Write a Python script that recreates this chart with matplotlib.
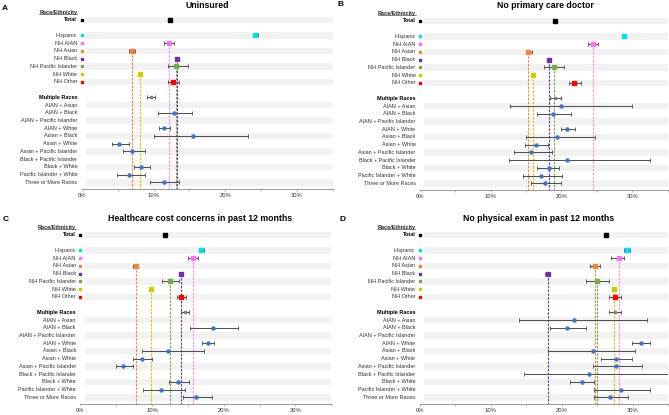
import matplotlib.pyplot as plt
from matplotlib.lines import Line2D
import numpy as np

plt.rcParams['font.family'] = ['Liberation Sans', 'DejaVu Sans']

nan = np.nan

groups = ["Hispanic", "NH AIAN", "NH Asian", "NH Black",
          "NH Pacific Islander", "NH White", "NH Other"]
combos = ["AIAN + Asian", "AIAN + Black", "AIAN + Pacific Islander",
          "AIAN + White", "Asian + Black", "Asian + White",
          "Asian + Pacific Islander", "Black + Pacific Islander",
          "Black + White", "Pacific Islander + White", "Three or More Races"]
group_colors = ["#00E0EC", "#FF6EFF", "#F4843C", "#7030A0",
                "#70AD47", "#CCCC00", "#FF0000"]

# A - Uninsured
unins_total = 12.3
unins_grp = [24.2, 12.2, 7.0, 13.3, 13.2, 8.1, 12.7]
unins_grp_lo = [23.9, 11.4, 6.6, 13.1, 12.0, nan, 12.0]
unins_grp_hi = [24.6, 12.9, 7.4, 13.5, 14.8, nan, 13.6]
unins_multi = [9.6, 9.1, 10.2]
unins_cmb = [nan, 12.8, nan, 11.5, 15.5, 5.2, 7.0, nan, 8.3, 6.6, 11.4]
unins_cmb_lo = [nan, 10.6, nan, 10.8, 10.1, 4.2, 5.7, nan, 7.3, 4.9, 9.5]
unins_cmb_hi = [nan, 15.4, nan, 12.3, 23.2, 6.6, 8.8, nan, 9.5, 8.8, 13.6]

# B - No primary care doctor
nopcp_total = 19.1
nopcp_grp = [28.9, 24.4, 15.3, 18.2, 19.0, 16.0, 21.8]
nopcp_grp_lo = [28.5, 23.7, 15.0, 17.9, 17.6, nan, 21.0]
nopcp_grp_hi = [29.2, 25.2, 15.9, 18.5, 20.3, nan, 22.7]
nopcp_multi = [19.1, 18.4, 19.9]
nopcp_cmb = [20.0, 18.8, nan, 20.8, 19.4, 16.4, 15.7, 20.8, 18.2, 17.1, 17.7]
nopcp_cmb_lo = [12.7, 16.6, nan, 19.9, 15.0, 14.9, 13.3, 12.6, 16.6, 14.5, 15.7]
nopcp_cmb_hi = [30.0, 21.3, nan, 21.9, 24.7, 18.1, 18.6, 32.5, 19.7, 20.1, 20.0]

# C - Healthcare cost concerns
cost_total = 11.8
cost_grp = [16.8, 15.7, 7.7, 14.0, 12.5, 9.8, 14.0]
cost_grp_lo = [16.6, 15.0, 7.3, 13.8, 11.4, nan, 13.5]
cost_grp_hi = [17.2, 16.4, 8.1, 14.3, 13.7, nan, 14.7]
cost_multi = [14.6, 14.0, 15.2]
cost_cmb = [nan, 18.5, nan, 17.8, 12.2, 8.6, 6.0, nan, 13.6, 11.2, 16.2]
cost_cmb_lo = [nan, 15.3, nan, 17.0, 8.6, 7.4, 5.0, nan, 12.3, 8.7, 14.3]
cost_cmb_hi = [nan, 22.0, nan, 18.7, 17.2, 10.0, 7.3, nan, 15.1, 14.6, 18.3]

# D - No physical exam
noexam_total = 26.3
noexam_grp = [29.2, 28.0, 24.7, 18.0, 25.0, 27.3, 27.5]
noexam_grp_lo = [28.8, 27.0, 24.0, 17.7, 23.4, nan, 26.7]
noexam_grp_hi = [29.6, 28.8, 25.4, 18.3, 26.6, nan, 28.3]
noexam_multi = [27.5, 26.7, 28.4]
noexam_cmb = [21.7, 20.7, nan, 31.1, 24.4, 27.7, 27.7, 23.8, 22.8, 28.3, 26.8]
noexam_cmb_lo = [14.0, 18.3, nan, 29.9, 18.1, 25.6, 24.4, 14.7, 21.2, 24.6, 24.6]
noexam_cmb_hi = [32.0, 23.4, nan, 32.4, 30.3, 29.9, 31.3, 36.0, 24.6, 32.4, 29.3]

ROW_TOTAL = 1
GROUP_ROWS = list(range(3, 10))
ROW_MULTI = 11
COMBO_ROWS = list(range(12, 23))
BAND_ROWS = [1, 3, 5, 7, 9, 12, 14, 16, 18, 20, 22]
YBOT = 22.85
YTOP = -0.6
ERR = "#4a4a4a"


def errbar(ax, x, lo, hi, y):
    if np.isnan(lo):
        return
    ax.errorbar([x], [y], xerr=[[x - lo], [hi - x]], fmt='none',
                ecolor=ERR, elinewidth=0.7, capsize=1.3, capthick=0.6,
                zorder=3)


def draw_panel(fig, ax, letter, title, lpos, tpos, total, grp, grp_lo, grp_hi,
               multi, cmb, cmb_lo, cmb_hi):
    ax.set_xlim(0, 35)
    ax.set_ylim(YBOT, YTOP)
    for r in BAND_ROWS:
        ax.axhspan(r - 0.42, r + 0.42, xmin=0.017, xmax=1,
                   color="#F2F2F2", lw=0, zorder=0)

    # reference lines for the single race groups
    for i in [1, 2, 3, 4, 5]:
        ax.plot([grp[i], grp[i]], [GROUP_ROWS[i], YBOT], ls=(0, (2.2, 1.2)),
                color=group_colors[i], lw=0.8, zorder=1,
                alpha=0.8 if i == 1 else 1)

    ax.plot(total, ROW_TOTAL, 's', color='black', ms=2.3, zorder=4)
    for i, r in enumerate(GROUP_ROWS):
        errbar(ax, grp[i], grp_lo[i], grp_hi[i], r)
        ax.plot(grp[i], r, 's', color=group_colors[i], ms=2.6, zorder=4)
    errbar(ax, multi[0], multi[1], multi[2], ROW_MULTI)
    ax.plot(multi[0], ROW_MULTI, 's', color='#7f7f7f', ms=2.0, zorder=4)
    for i, r in enumerate(COMBO_ROWS):
        if np.isnan(cmb[i]):
            continue
        errbar(ax, cmb[i], cmb_lo[i], cmb_hi[i], r)
        ax.plot(cmb[i], r, 'o', color='#4472C4', ms=2.2, zorder=4)

    # row labels and colour keys
    tr = ax.get_yaxis_transform()
    lx = -0.018
    hdr = ax.text(lx, 0, "Race/Ethnicity", transform=tr, ha='right',
                  va='center', fontsize=4, fontweight='bold', color='#222222')
    ax.text(lx, ROW_TOTAL, "Total", transform=tr, ha='right', va='center',
            fontsize=4, fontweight='bold')
    ax.plot([0.0], [ROW_TOTAL], 's', color='black', ms=1.8, clip_on=False,
            transform=tr, zorder=5)
    for i, r in enumerate(GROUP_ROWS):
        ax.text(lx, r, groups[i], transform=tr, ha='right', va='center',
                fontsize=4, color='#333333')
        ax.plot([0.0], [r], 's', color=group_colors[i], ms=1.8,
                clip_on=False, transform=tr, zorder=5)
    ax.text(lx, ROW_MULTI, "Multiple Races", transform=tr, ha='right',
            va='center', fontsize=4, fontweight='bold')
    for i, r in enumerate(COMBO_ROWS):
        ax.text(lx, r, combos[i], transform=tr, ha='right', va='center',
                fontsize=4, color='#333333')

    ax.set_xticks(range(0, 36, 5))
    ax.set_xticklabels(["%d%%" % v if v % 10 == 0 else "" for v in range(0, 36, 5)])
    ax.tick_params(axis='x', length=1.5, width=0.4, color='#888888',
                   labelsize=4.2, pad=1.5, labelcolor='#333333')
    ax.set_yticks([])
    for s in ['top', 'right', 'left']:
        ax.spines[s].set_visible(False)
    ax.spines['bottom'].set_color('#888888')
    ax.spines['bottom'].set_linewidth(0.6)

    fig.text(lpos[0] / 669, 1 - lpos[1] / 415, letter, fontsize=6,
             fontweight='bold', ha='left', va='center')
    fig.text(tpos[0] / 669, 1 - tpos[1] / 415, title, fontsize=6.3,
             fontweight='bold', ha='center', va='center')
    return hdr


H = 181.5 / 415
fig = plt.figure(figsize=(6.69, 4.15), dpi=100)
axA = fig.add_axes([81.7 / 669, 1 - 189 / 415, 251.3 / 669, H])
axB = fig.add_axes([420.0 / 669, 1 - 190 / 415, 247.5 / 669, H])
axC = fig.add_axes([80.3 / 669, 1 - 404 / 415, 251.0 / 669, H])
axD = fig.add_axes([419.7 / 669, 1 - 404 / 415, 248.5 / 669, H])

hdrs = []
hdrs.append(draw_panel(fig, axA, "A", "Uninsured", (2, 8), (207, 5),
                       unins_total, unins_grp, unins_grp_lo, unins_grp_hi,
                       unins_multi, unins_cmb, unins_cmb_lo, unins_cmb_hi))
hdrs.append(draw_panel(fig, axB, "B", "No primary care doctor", (337, 5),
                       (545, 5), nopcp_total, nopcp_grp, nopcp_grp_lo,
                       nopcp_grp_hi, nopcp_multi, nopcp_cmb, nopcp_cmb_lo,
                       nopcp_cmb_hi))
hdrs.append(draw_panel(fig, axC, "C", "Healthcare cost concerns in past 12 months",
                       (3, 219), (200, 218), cost_total, cost_grp, cost_grp_lo,
                       cost_grp_hi, cost_multi, cost_cmb, cost_cmb_lo,
                       cost_cmb_hi))
hdrs.append(draw_panel(fig, axD, "D", "No physical exam in past 12 months",
                       (340, 219), (539, 218), noexam_total, noexam_grp,
                       noexam_grp_lo, noexam_grp_hi, noexam_multi, noexam_cmb,
                       noexam_cmb_lo, noexam_cmb_hi))

# underline the header labels
fig.canvas.draw()
inv = fig.transFigure.inverted()
for t in hdrs:
    bb = t.get_window_extent()
    (x0, y0), (x1, _) = inv.transform([[bb.x0, bb.y0 + 0.3], [bb.x1, bb.y0]])
    fig.add_artist(Line2D([x0, x1], [y0, y0], transform=fig.transFigure,
                          color='#222222', lw=0.4))

fig.savefig("out.png", dpi=100)
